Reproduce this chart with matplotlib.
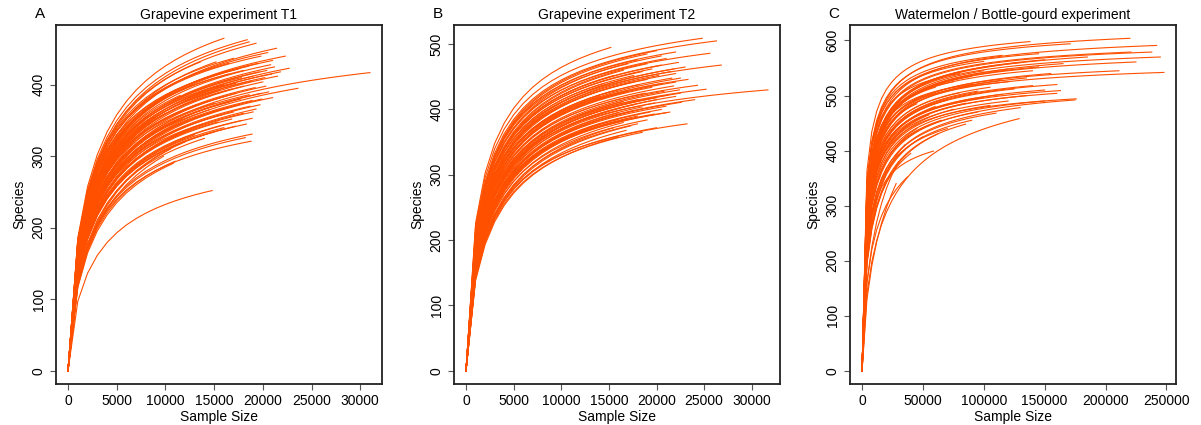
import numpy as np
import matplotlib
matplotlib.use('Agg')
import matplotlib.pyplot as plt

plt.rcParams['font.family'] = ['Liberation Sans', 'DejaVu Sans']

# --- data: curve end (sample size, species) and species at a reference size ---
# panel A, reference size 5000
a_end_x = [16000, 18400, 18600, 19300, 21400, 20500, 22300, 13600, 15200, 22700,
           21200, 20800, 19500, 18500, 17500, 31000, 20900, 19600, 18000, 16500,
           21500, 20200, 19000, 17800, 23600, 20000, 18800, 17200, 16000, 20300,
           19200, 18000, 16800, 15500, 19800, 18600, 17300, 16200, 19900, 18900,
           17700, 16600, 15000, 19700, 18700, 17600, 16400, 14500, 19000, 18000,
           17000, 15800, 18900, 17800, 16800, 15400, 13800, 18300, 17200, 16000,
           12500, 15000, 13000, 18900, 18800, 18200, 11000, 10800, 14800, 12000,
           10500, 9800, 14000, 16500, 17000, 19800, 21000, 20400, 21800, 20600,
           21000, 19300, 14200, 12800, 11500, 13200, 10000, 11800]
a_end_y = [465, 463, 460, 458, 451, 445, 440, 432, 432, 423,
           425, 428, 430, 426, 422, 417, 415, 418, 420, 415,
           412, 410, 412, 410, 395, 404, 405, 402, 400, 398,
           396, 398, 394, 392, 388, 386, 388, 384, 380, 378,
           380, 376, 374, 372, 370, 372, 368, 365, 362, 360,
           362, 358, 353, 350, 352, 348, 345, 345, 342, 340,
           338, 334, 330, 331, 321, 326, 293, 290, 252, 320,
           310, 300, 325, 430, 437, 440, 434, 420, 418, 390,
           382, 366, 410, 400, 385, 372, 360, 352]
a_ref_y = [358, 350, 345, 342, 330, 335, 322, 345, 335, 305,
           312, 318, 325, 328, 330, 288, 308, 314, 324, 326,
           300, 305, 312, 316, 280, 298, 306, 310, 314, 292,
           296, 302, 304, 308, 286, 290, 296, 298, 278, 282,
           288, 290, 295, 272, 276, 280, 282, 286, 268, 270,
           276, 278, 262, 264, 268, 270, 275, 258, 260, 262,
           270, 258, 260, 245, 240, 243, 238, 235, 193, 252,
           250, 245, 252, 338, 340, 335, 320, 310, 302, 284,
           276, 268, 322, 320, 318, 300, 305, 290]

# panel B, reference size 5000
b_end_x = [15200, 24800, 26300, 25600, 26800, 31700, 25200, 23200, 22600, 21400,
           19800, 24300, 23300, 22000, 20000, 19000, 21000, 22300, 18000, 20500,
           21800, 17000, 19500, 22000, 18500, 20200, 21600, 17600, 19000, 22000,
           20600, 18200, 21800, 19500, 22400, 20800, 18800, 21200, 17000, 20000,
           22000, 18000, 19800, 21000, 16500, 18500, 20500, 17500, 19300, 16000,
           18000, 17000, 19000, 16500, 18000, 17300, 15500, 16800, 20000, 22500,
           21500, 23000, 16500, 15500, 14500, 16000, 14000, 17500, 19000, 20500,
           22500, 24000, 17800, 15000, 16000, 14000, 21000, 18500, 20000, 16000]
b_end_y = [495, 509, 505, 486, 468, 430, 431, 378, 411, 396,
           393, 437, 446, 488, 490, 485, 478, 472, 476, 468,
           462, 470, 462, 455, 458, 452, 448, 452, 446, 442,
           440, 438, 436, 434, 430, 428, 425, 422, 428, 418,
           420, 415, 410, 405, 412, 404, 400, 398, 396, 395,
           390, 386, 384, 380, 378, 375, 372, 368, 415, 448,
           458, 465, 460, 452, 440, 430, 420, 442, 470, 482,
           425, 415, 408, 402, 385, 378, 395, 365, 372, 358]
b_ref_y = [402, 392, 385, 372, 355, 318, 325, 280, 305, 300,
           302, 330, 340, 378, 382, 380, 370, 362, 378, 362,
           352, 376, 360, 345, 360, 350, 340, 356, 348, 334,
           336, 342, 330, 334, 322, 324, 328, 318, 336, 318,
           315, 320, 312, 305, 322, 308, 302, 304, 300, 306,
           296, 294, 290, 290, 285, 282, 284, 278, 310, 336,
           348, 350, 364, 362, 356, 342, 340, 348, 366, 372,
           318, 306, 314, 316, 298, 296, 298, 274, 278, 272]

# panel C, reference size 25000
c_end_x = [138000, 220000, 171000, 242000, 145000, 238000, 221000, 245000, 225000, 248000,
           211000, 176000, 163000, 160000, 129000, 58600, 37300, 150000, 130000, 110000,
           145000, 120000, 100000, 155000, 90000, 135000, 115000, 160000, 140000, 105000,
           125000, 150000, 95000, 80000, 115000, 135000, 100000, 70000, 120000, 85000,
           60000, 105000, 150000, 75000, 95000, 55000, 65000, 110000, 90000, 45000,
           70000, 50000, 35000, 40000, 30000, 28000, 62000, 85000, 130000, 175000,
           120000, 90000, 140000, 165000, 185000, 100000, 80000, 115000, 60000, 50000,
           45000, 75000]
c_end_y = [598, 604, 594, 591, 576, 579, 579, 570, 561, 542,
           545, 494, 509, 504, 458, 399, 352, 565, 560, 555,
           552, 548, 545, 540, 535, 532, 528, 520, 518, 515,
           512, 510, 508, 505, 502, 500, 496, 492, 490, 486,
           480, 482, 490, 475, 470, 465, 455, 468, 455, 440,
           440, 425, 410, 395, 380, 340, 430, 448, 478, 492,
           525, 520, 545, 558, 570, 562, 540, 573, 515, 500,
           485, 525]
c_ref_y = [526, 510, 512, 495, 500, 488, 490, 478, 470, 455,
           460, 415, 430, 425, 311, 360, 320, 478, 480, 478,
           468, 470, 472, 455, 468, 452, 452, 438, 440, 445,
           436, 430, 440, 445, 430, 422, 428, 436, 418, 420,
           428, 410, 405, 412, 398, 418, 400, 385, 378, 400,
           380, 375, 380, 360, 358, 325, 362, 365, 385, 395,
           462, 468, 470, 468, 475, 500, 490, 505, 470, 462,
           455, 475]


def curve(x_end, y_end, x_ref, y_ref, step, c):
    # saturating curve through (0,0), (x_ref, y_ref) and (x_end, y_end)
    u = (y_ref - y_end) / (y_end / x_end**c - y_ref / x_ref**c)
    top = y_ref * (1 + u / x_ref**c)
    xs = np.append(np.arange(1, x_end, step), x_end).astype(float)
    ys = top / (1 + u / xs**c)
    return xs, ys


panels = [
    ('A', 'Grapevine experiment T1', a_end_x, a_end_y, a_ref_y, 5000, 1000, 0.75,
     [0, 5000, 10000, 15000, 20000, 25000, 30000], [0, 100, 200, 300, 400]),
    ('B', 'Grapevine experiment T2', b_end_x, b_end_y, b_ref_y, 5000, 1000, 0.75,
     [0, 5000, 10000, 15000, 20000, 25000, 30000], [0, 100, 200, 300, 400, 500]),
    ('C', 'Watermelon / Bottle-gourd experiment', c_end_x, c_end_y, c_ref_y, 25000, 4000, 0.7,
     [0, 50000, 100000, 150000, 200000, 250000], [0, 100, 200, 300, 400, 500, 600]),
]

fig = plt.figure(figsize=(12.01, 4.25), dpi=100)
lefts = [56 / 1201, 454 / 1201, 850 / 1201]
col = '#FF5000'

for left, (tag, title, ex, ey, ry, xref, step, shape, xt, yt) in zip(lefts, panels):
    ax = fig.add_axes([left, 41 / 425, 326 / 1201, 359 / 425])
    for x_end, y_end, y_ref in zip(ex, ey, ry):
        xs, ys = curve(x_end, y_end, xref, y_ref, step, shape)
        xs = np.insert(xs, 0, 0.0)
        ys = np.insert(ys, 0, 0.0)
        ax.plot(xs, ys, color=col, lw=0.8)
    xmax = max(ex)
    ymax = max(ey)
    ax.set_xlim(-0.04 * xmax, 1.04 * xmax)
    ax.set_ylim(-0.04 * ymax, 1.04 * ymax)
    ax.set_xticks(xt)
    ax.set_yticks(yt)
    ax.set_yticklabels([str(v) for v in yt], rotation=90, va='center')
    ax.tick_params(direction='out', length=4, width=0.8, color='#555555', labelsize=10)
    for s in ax.spines.values():
        s.set_linewidth(1.3)
        s.set_color('#222222')
    ax.set_xlabel('Sample Size', fontsize=10, labelpad=1)
    ax.set_ylabel('Species', fontsize=10, labelpad=4)
    ax.set_title(title, fontsize=10, pad=4)
    ax.text(-0.05, 1.01, tag, transform=ax.transAxes, fontsize=11, ha='center', va='bottom')

fig.savefig('out.png', dpi=100)
